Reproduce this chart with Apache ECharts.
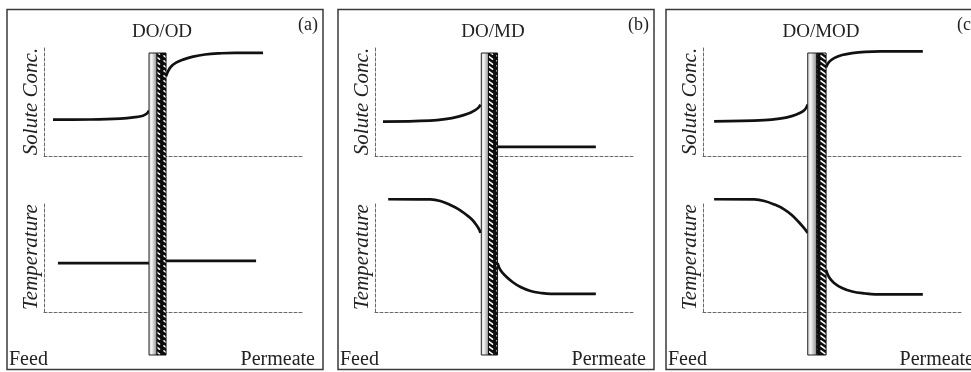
<!DOCTYPE html>
<html>
<head>
<meta charset="utf-8">
<script src="https://cdn.jsdelivr.net/npm/echarts@6/dist/echarts.min.js"></script>
<style>
  html, body { margin: 0; padding: 0; background: #fff; }
  #chart { width: 971px; height: 372px; }
</style>
</head>
<body>
<div id="chart"></div>
<script>
// Text
const panelTitles = ['DO/OD', 'DO/MD', 'DO/MOD'];
const panelTags = ['(a)', '(b)', '(c)'];
const axisNames = ['Solute Conc.', 'Temperature'];
const sideLabels = ['Feed', 'Permeate'];

// Profiles: x runs 0 (axis) .. 100 (end of baseline), y runs 0 (baseline) .. 100 (top of axis)
const soluteFeedA = [[3.5, 33.3], [17.8, 33.5], [29.5, 34.3], [35.3, 35.6], [38.4, 37.0], [39.9, 38.9], [40.7, 41.7]];
const solutePermA = [[47.3, 73.1], [48.1, 77.8], [49.2, 81.9], [51.2, 85.6], [53.9, 88.4], [57.8, 91.2], [62.4, 93.1], [68.2, 94.2], [74.0, 94.7], [84.9, 94.7]];
const tempFeedA = [[5.4, 44.5], [40.7, 44.5]];
const tempPermA = [[47.3, 46.4], [82.2, 46.4]];

const soluteFeedB = [[3.1, 31.5], [21.4, 32.4], [27.2, 33.8], [32.3, 36.1], [36.2, 38.9], [38.5, 41.7], [40.1, 44.4], [40.9, 47.2]];
const solutePermB = [[47.5, 8.3], [85.6, 8.3]];
const tempFeedB = [[5.1, 102.5], [21.4, 102.3], [25.3, 100.9], [29.2, 97.3], [32.3, 93.6], [35.0, 89.1], [37.4, 84.5], [39.3, 79.1], [40.5, 74.5], [40.9, 71.8]];
const tempPermB = [[47.5, 44.5], [48.6, 38.2], [50.6, 32.7], [53.3, 27.3], [56.4, 22.7], [60.3, 19.1], [64.2, 17.3], [68.1, 16.4], [85.6, 16.4]];

const soluteFeedC = [[4.3, 31.8], [23.8, 32.9], [29.7, 34.3], [34.4, 36.6], [37.5, 39.4], [39.5, 42.6], [40.6, 47.2]];
const solutePermC = [[47.7, 81.5], [48.8, 86.1], [50.8, 89.8], [53.9, 92.6], [57.8, 94.4], [62.9, 95.6], [68.8, 96.0], [85.2, 96.0]];
const tempFeedC = [[4.3, 102.5], [19.9, 102.3], [23.8, 100.9], [27.7, 97.7], [31.3, 93.6], [34.4, 88.2], [37.1, 81.8], [39.1, 76.4], [40.6, 71.8]];
const tempPermC = [[47.7, 38.2], [48.8, 31.8], [50.8, 26.4], [53.9, 21.8], [57.8, 18.6], [62.9, 16.8], [66.8, 16.1], [85.2, 16.1]];

// Membrane: [support left edge, support/active boundary, active right edge]
const membraneA = [40.7, 43.8, 47.3];
const membraneB = [41.2, 44.0, 47.5];
const membraneC = [40.6, 44.1, 47.7];

const profiles = [
  { soluteFeed: soluteFeedA, solutePerm: solutePermA, tempFeed: tempFeedA, tempPerm: tempPermA, membrane: membraneA },
  { soluteFeed: soluteFeedB, solutePerm: solutePermB, tempFeed: tempFeedB, tempPerm: tempPermB, membrane: membraneB },
  { soluteFeed: soluteFeedC, solutePerm: solutePermC, tempFeed: tempFeedC, tempPerm: tempPermC, membrane: membraneC }
];

// Layout
const panelLeft = [7, 338, 666];
const panelTop = 9.5;
const panelW = 316;
const panelH = 360;
const plotOffset = 37;
const plotW = 258;
const soluteBox = { top: 47, height: 109 };
const tempBox = { top: 202, height: 110 };
const membraneBox = { top: 53, height: 302 };

const serif = 'Liberation Serif, Times New Roman, serif';

// Hatched fill for the active layer: white diagonal dashes on black
function hatchCanvas() {
  const c = document.createElement('canvas');
  c.width = 9; c.height = 5;
  const g = c.getContext('2d');
  g.fillStyle = '#0d0d0d';
  g.fillRect(0, 0, 9, 5);
  g.strokeStyle = '#ffffff';
  g.lineWidth = 1.5;
  g.lineCap = 'round';
  g.beginPath();
  g.moveTo(2, 0.8);
  g.lineTo(6.5, 4.2);
  g.stroke();
  return c;
}
const hatch = hatchCanvas();

const chart = echarts.init(document.getElementById('chart'), null, { renderer: 'canvas' });

const grid = [], xAxis = [], yAxis = [], series = [], graphic = [];
const dashed = { show: true, onZero: true, lineStyle: { color: '#6a6a6a', width: 1, type: [3, 2] } };

profiles.forEach((p, i) => {
  const left = panelLeft[i] + plotOffset;
  const boxes = [soluteBox, tempBox, membraneBox];
  boxes.forEach((b, k) => {
    const gi = i * 3 + k;
    grid.push({ left: left, width: plotW, top: b.top, height: b.height });
    const visible = k < 2;
    xAxis.push({
      type: 'value', gridIndex: gi, min: 0, max: 100, show: visible,
      axisLine: dashed, axisTick: { show: false }, axisLabel: { show: false }, splitLine: { show: false }
    });
    yAxis.push({
      type: 'value', gridIndex: gi, min: 0, max: 100, show: visible,
      name: visible ? axisNames[k] : '', nameLocation: 'middle', nameGap: 2,
      nameTextStyle: { fontFamily: serif, fontStyle: 'italic', fontSize: 21, color: '#222' },
      axisLine: dashed, axisTick: { show: false }, axisLabel: { show: false }, splitLine: { show: false }
    });
  });

  const lineStyle = { color: '#111', width: 2.7, cap: 'butt', join: 'round' };
  const mk = (data, gi) => ({
    type: 'line', xAxisIndex: gi, yAxisIndex: gi, data: data,
    smooth: 0.4, showSymbol: false, symbol: 'none',
    clip: false, lineStyle: lineStyle, z: 3, silent: true
  });
  series.push(mk(p.soluteFeed, i * 3), mk(p.solutePerm, i * 3));
  series.push(mk(p.tempFeed, i * 3 + 1), mk(p.tempPerm, i * 3 + 1));

  const m = p.membrane;
  series.push({
    type: 'custom', xAxisIndex: i * 3 + 2, yAxisIndex: i * 3 + 2, z: 6, silent: true,
    data: [[m[0], m[1], m[2], 0, 100]],
    renderItem: function (params, api) {
      const t0 = api.coord([api.value(0), api.value(4)]);
      const b1 = api.coord([api.value(1), api.value(3)]);
      const b2 = api.coord([api.value(2), api.value(3)]);
      return {
        type: 'group',
        children: [
          {
            type: 'rect',
            shape: { x: t0[0], y: t0[1], width: b1[0] - t0[0], height: b1[1] - t0[1] },
            style: {
              fill: new echarts.graphic.LinearGradient(0, 0, 1, 0, [
                { offset: 0, color: '#cfcfcf' },
                { offset: 0.35, color: '#f5f5f5' },
                { offset: 0.7, color: '#b8b8b8' },
                { offset: 1, color: '#7d7d7d' }
              ]),
              stroke: '#222', lineWidth: 1
            }
          },
          {
            type: 'rect',
            shape: { x: b1[0], y: t0[1], width: b2[0] - b1[0], height: b2[1] - t0[1] },
            style: { fill: { image: hatch, repeat: 'repeat' }, stroke: '#111', lineWidth: 1 }
          }
        ]
      };
    }
  });

  // Panel frame and texts
  const x0 = panelLeft[i];
  graphic.push({
    type: 'rect', silent: true, z: 10,
    shape: { x: x0, y: panelTop, width: panelW, height: panelH },
    style: { fill: 'none', stroke: '#3a3a3a', lineWidth: 1.5 }
  });
  graphic.push({
    type: 'text', silent: true, z: 10, x: x0 + 155, y: 32,
    style: { text: panelTitles[i], font: '19px ' + serif, fill: '#222', align: 'center', verticalAlign: 'middle' }
  });
  graphic.push({
    type: 'text', silent: true, z: 10, x: x0 + 311, y: 25,
    style: { text: panelTags[i], font: '18px ' + serif, fill: '#222', align: 'right', verticalAlign: 'middle' }
  });
  graphic.push({
    type: 'text', silent: true, z: 10, x: x0 + 2, y: 370,
    style: { text: sideLabels[0], font: '20px ' + serif, fill: '#222', align: 'left', verticalAlign: 'bottom' }
  });
  graphic.push({
    type: 'text', silent: true, z: 10, x: x0 + 308, y: 370,
    style: { text: sideLabels[1], font: '20px ' + serif, fill: '#222', align: 'right', verticalAlign: 'bottom' }
  });
});

chart.setOption({
  animation: false,
  backgroundColor: '#fff',
  grid: grid,
  xAxis: xAxis,
  yAxis: yAxis,
  series: series,
  graphic: graphic
});
</script>
</body>
</html>
